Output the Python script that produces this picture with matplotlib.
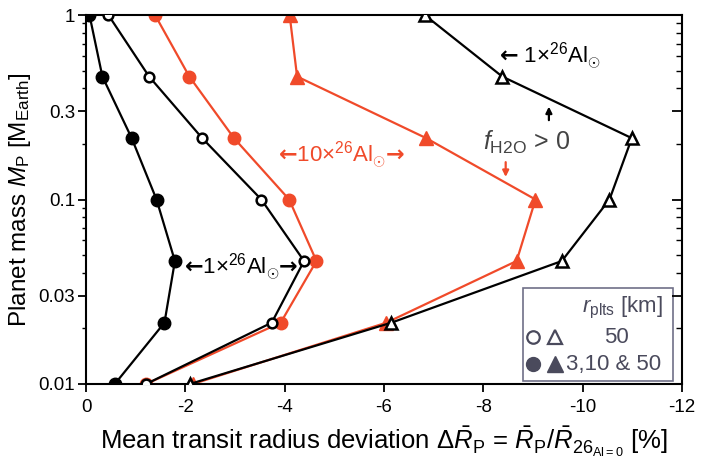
import numpy as np
import matplotlib
matplotlib.use("Agg")
import matplotlib.pyplot as plt
from matplotlib.patches import Rectangle

plt.rcParams['font.family'] = ['Liberation Sans', 'DejaVu Sans']
plt.rcParams['mathtext.fontset'] = 'custom'
plt.rcParams['mathtext.rm'] = 'Liberation Sans'
plt.rcParams['mathtext.it'] = 'Liberation Sans:italic'
plt.rcParams['mathtext.bf'] = 'Liberation Sans:bold'
plt.rcParams['mathtext.sf'] = 'DejaVu Sans:bold'

# planet masses [M_Earth]
mass = [1.0, 0.464, 0.215, 0.1, 0.0464, 0.0215, 0.01]

# mean transit radius deviation [%]
black_filled = [-0.07, -0.33, -0.92, -1.42, -1.79, -1.58, -0.58]    # 1x, r=3,10&50
black_open = [-0.45, -1.27, -2.34, -3.53, -4.39, -3.74, -1.21]      # 1x, r=50
red_filled = [-1.39, -2.08, -2.98, -4.09, -4.64, -3.92, -1.21]      # 10x
red_tri = [-4.10, -4.25, -6.85, -9.05, -8.67, -6.05, -2.15]         # 10x, fH2O>0
black_tri = [-6.82, -8.38, -10.99, -10.54, -9.58, -6.15, -2.09]     # 1x, fH2O>0

xticks = [0, -2, -4, -6, -8, -10, -12]
yticks = [0.01, 0.03, 0.1, 0.3, 1]
yticklabels = ['0.01', '0.03', '0.1', '0.3', '1']

RED = '#F04A2A'
GRAY = '#4a4a5c'

fig = plt.figure(figsize=(7.18, 4.59), dpi=100)
ax = fig.add_axes([86/718, 1-384/459, (682-86)/718, (384-15)/459])

lw = 1.6
ax.plot(red_filled, mass, '-o', color=RED, lw=lw, ms=9, mec=RED, mfc=RED, zorder=2)
ax.plot(red_tri, mass, '-^', color=RED, lw=lw, ms=10, mec=RED, mfc=RED, zorder=2)
ax.plot(black_filled, mass, '-o', color='black', lw=lw, ms=9, mfc='black', zorder=3)
ax.plot(black_open, mass, '-o', color='black', lw=lw, ms=7, mfc='white', mew=1.8, zorder=3)
ax.plot(black_tri, mass, '-^', color='black', lw=lw, ms=8, mfc='white', mew=1.8, zorder=3)

ax.set_yscale('log')
ax.set_xlim(0, -12)
ax.set_ylim(0.01, 1)
ax.set_xticks(xticks)
ax.set_xticklabels([str(t) if t == 0 else '-%d' % abs(t) for t in xticks])
ax.set_yticks(yticks)
ax.set_yticklabels(yticklabels)

for s in ax.spines.values():
    s.set_linewidth(1.5)
ax.tick_params(axis='x', which='major', direction='out', length=6, width=1.3,
               labelsize=13.5, pad=5, top=False)
ax.tick_params(axis='y', which='major', direction='out', length=6, width=1.3,
               labelsize=13.5, pad=2)
ax.tick_params(axis='y', which='minor', direction='out', length=3, width=1.0)
ax.yaxis.set_minor_formatter(matplotlib.ticker.NullFormatter())

# right axis ticks pointing inward
ax2 = ax.twinx()
ax2.set_yscale('log')
ax2.set_ylim(0.01, 1)
ax2.set_yticks(yticks)
ax2.tick_params(axis='y', which='major', direction='in', length=7, width=1.3, labelright=False)
ax2.tick_params(axis='y', which='minor', direction='in', length=4, width=1.0)
ax2.yaxis.set_minor_formatter(matplotlib.ticker.NullFormatter())
for s in ax2.spines.values():
    s.set_visible(False)

ax.set_xlabel(r'Mean transit radius deviation $\Delta\bar{R}_\mathrm{P}$ = $\bar{R}_\mathrm{P}/\bar{R}_{26_{\mathrm{Al=0}}}$ [%]',
              fontsize=18.5, labelpad=6)
ax.set_ylabel(r'Planet mass $M_\mathrm{P}$ [M$_\mathrm{Earth}$]', fontsize=17.5, labelpad=4)

# annotations
L = r'$\mathsf{←}$'
R = r'$\mathsf{→}$'
ax.text(-3.13, 0.043, L + r'1×$^{26}$Al$_{\odot}$' + R, fontsize=16, ha='center', va='center', color='black')
ax.text(-5.15, 0.174, L + r'10×$^{26}$Al$_{\odot}$' + R, fontsize=16, ha='center', va='center', color=RED)
ax.text(-9.34, 0.60, L + r' 1×$^{26}$Al$_{\odot}$', fontsize=16, ha='center', va='center', color='black')
ax.text(-8.87, 0.205, r'$f_{\mathrm{H2O}}$ > 0', fontsize=18, ha='center', va='center', color='#444444')
ax.annotate('', xy=(-9.32, 0.33), xytext=(-9.32, 0.26),
            arrowprops=dict(arrowstyle='-|>', color='black', lw=1.6, mutation_scale=9))
ax.annotate('', xy=(-8.45, 0.128), xytext=(-8.45, 0.165),
            arrowprops=dict(arrowstyle='-|>', color=RED, lw=1.6, mutation_scale=9))

# legend box (axes fraction)
ax.add_patch(Rectangle((0.733, 0.008), 0.252, 0.252, transform=ax.transAxes,
                       fill=True, facecolor='white', edgecolor='#707088', lw=1.2, zorder=5))
ax.text(0.900, 0.205, r'$r_{\mathrm{plts}}$ [km]', transform=ax.transAxes, fontsize=16,
        ha='center', va='center', color=GRAY, zorder=6)
ax.plot([0.750], [0.127], 'o', transform=ax.transAxes, ms=9, mfc='white', mec=GRAY, mew=1.6, zorder=6, clip_on=False)
ax.plot([0.787], [0.127], '^', transform=ax.transAxes, ms=10, mfc='white', mec=GRAY, mew=1.6, zorder=6, clip_on=False)
ax.text(0.890, 0.127, '50', transform=ax.transAxes, fontsize=16, ha='center', va='center', color=GRAY, zorder=6)
ax.plot([0.750], [0.054], 'o', transform=ax.transAxes, ms=10, mfc=GRAY, mec=GRAY, zorder=6, clip_on=False)
ax.plot([0.787], [0.054], '^', transform=ax.transAxes, ms=11, mfc=GRAY, mec=GRAY, zorder=6, clip_on=False)
ax.text(0.806, 0.054, '3,10 & 50', transform=ax.transAxes, fontsize=16, ha='left', va='center', color=GRAY, zorder=6)

fig.savefig('out.png', dpi=100)
